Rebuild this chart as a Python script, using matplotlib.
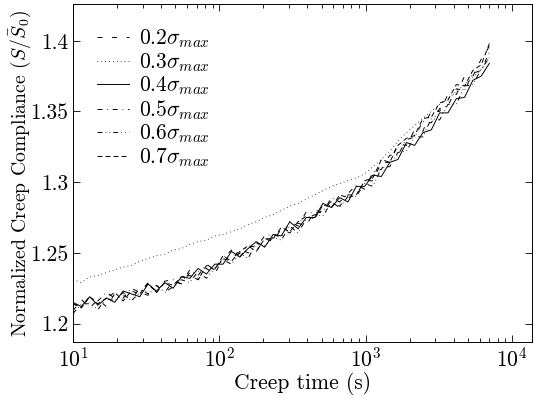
import matplotlib
matplotlib.use("Agg")
import matplotlib.pyplot as plt
from matplotlib.ticker import FixedLocator, FuncFormatter

plt.rcParams['font.family'] = 'cmr10'
plt.rcParams['mathtext.fontset'] = 'cm'
plt.rcParams['axes.formatter.use_mathtext'] = True
plt.rcParams['lines.scale_dashes'] = False

# creep time (s)
time = [10, 11.4, 13, 14.8, 16.9, 19.3, 22, 25, 28.6, 32.6, 37.2, 42.4, 48.3, 55, 62.8,
        71.6, 81.6, 93, 106, 121, 138, 157, 179, 204, 233, 265, 303, 345, 393, 448,
        511, 583, 664, 757, 863, 984, 1120, 1280, 1460, 1660, 1900, 2160, 2460, 2810,
        3200, 3650, 4160, 4740, 5400, 6160, 7000]

s02 = [1.209, 1.217, 1.211, 1.217, 1.212, 1.221, 1.220, 1.217, 1.225, 1.221, 1.227, 1.222,
       1.230, 1.228, 1.236, 1.231, 1.239, 1.235, 1.246, 1.244, 1.253, 1.250, 1.251, 1.260,
       1.258, 1.267, 1.264, 1.271, 1.269, 1.280, 1.279, 1.287, 1.283, 1.291, 1.291, 1.301,
       1.301, 1.314, 1.314, 1.327, 1.326, 1.337, 1.336, 1.351, 1.350, 1.362, 1.362, 1.375,
       1.375, 1.387, 1.396]
s03 = [1.231, 1.229, 1.233, 1.234, 1.236, 1.238, 1.240, 1.241, 1.244, 1.246, 1.248, 1.249,
       1.252, 1.253, 1.256, 1.258, 1.259, 1.262, 1.263, 1.265, 1.267, 1.270, 1.272, 1.275,
       1.277, 1.280, 1.283, 1.285, 1.288, 1.291, 1.294, 1.297, 1.299, 1.301, 1.303, 1.306,
       1.311, 1.316, 1.322, 1.329, 1.335, 1.340, 1.345, 1.350, 1.355, 1.359, 1.364, 1.369,
       1.374, 1.380, 1.388]
s04 = [1.215, 1.212, 1.219, 1.213, 1.218, 1.215, 1.223, 1.221, 1.219, 1.228, 1.223, 1.229,
       1.225, 1.233, 1.232, 1.239, 1.235, 1.242, 1.242, 1.251, 1.247, 1.253, 1.258, 1.254,
       1.263, 1.262, 1.272, 1.267, 1.275, 1.275, 1.285, 1.282, 1.289, 1.286, 1.297, 1.297,
       1.305, 1.304, 1.314, 1.316, 1.328, 1.326, 1.335, 1.337, 1.349, 1.349, 1.359, 1.360,
       1.372, 1.375, 1.384]
s05 = [1.214, 1.212, 1.219, 1.216, 1.222, 1.218, 1.218, 1.225, 1.222, 1.229, 1.222, 1.230,
       1.231, 1.228, 1.238, 1.234, 1.242, 1.238, 1.246, 1.252, 1.247, 1.255, 1.254, 1.262,
       1.263, 1.261, 1.272, 1.269, 1.279, 1.278, 1.279, 1.289, 1.286, 1.292, 1.298, 1.295,
       1.307, 1.309, 1.319, 1.319, 1.330, 1.332, 1.343, 1.342, 1.352, 1.354, 1.366, 1.365,
       1.377, 1.379, 1.392]
s06 = [1.207, 1.214, 1.214, 1.210, 1.218, 1.216, 1.222, 1.216, 1.222, 1.220, 1.227, 1.222,
       1.226, 1.231, 1.229, 1.237, 1.232, 1.239, 1.245, 1.242, 1.250, 1.246, 1.257, 1.255,
       1.261, 1.259, 1.269, 1.264, 1.274, 1.277, 1.276, 1.286, 1.282, 1.290, 1.290, 1.299,
       1.297, 1.310, 1.311, 1.321, 1.322, 1.332, 1.332, 1.345, 1.344, 1.355, 1.355, 1.368,
       1.369, 1.380, 1.388]
s07 = [1.214, 1.211, 1.219, 1.214, 1.218, 1.222, 1.216, 1.223, 1.221, 1.228, 1.222, 1.229,
       1.227, 1.233, 1.234, 1.231, 1.241, 1.238, 1.248, 1.244, 1.251, 1.255, 1.251, 1.260,
       1.260, 1.268, 1.265, 1.272, 1.276, 1.274, 1.284, 1.282, 1.291, 1.289, 1.291, 1.301,
       1.303, 1.316, 1.314, 1.326, 1.331, 1.333, 1.345, 1.346, 1.356, 1.358, 1.369, 1.368,
       1.379, 1.383, 1.398]

labels = [r'$0.2\sigma_{max}$', r'$0.3\sigma_{max}$', r'$0.4\sigma_{max}$',
          r'$0.5\sigma_{max}$', r'$0.6\sigma_{max}$', r'$0.7\sigma_{max}$']
styles = [(0, (3.5, 7)), (0, (0.5, 2.3)), '-', (0, (3.5, 3.5, 0.5, 3.5)),
          (0, (3.5, 2.3, 0.5, 2.3, 0.5, 2.3)), (0, (3.5, 2.3))]
yticks = [1.2, 1.25, 1.3, 1.35, 1.4]

fig = plt.figure(figsize=(5.34, 3.99), dpi=100)
ax = fig.add_axes([0.1367, 0.143, 0.8596, 0.847])

for ys, lab, ls in zip([s02, s03, s04, s05, s06, s07], labels, styles):
    ax.plot(time, ys, color='black', lw=0.7, linestyle=ls, label=lab)

ax.set_xscale('log')
ax.set_xlim(10, 13700)
ax.set_ylim(1.187, 1.426)
ax.yaxis.set_major_locator(FixedLocator(yticks))
ax.yaxis.set_major_formatter(FuncFormatter(lambda v, p: f'{v:g}'))

ax.tick_params(which='both', direction='in', top=True, right=True, labelsize=15.5, width=0.6)
ax.tick_params(which='major', length=5)
ax.tick_params(which='minor', length=3)
for s in ax.spines.values():
    s.set_linewidth(0.7)

ax.set_xlabel('Creep time (s)', fontsize=15.5, labelpad=1)
ax.set_ylabel(r'Normalized Creep Compliance ($S/\bar{S}_0$)', fontsize=14.2, labelpad=-2)

ax.legend(loc='upper left', frameon=False, fontsize=15.5, handlelength=1.5,
          labelspacing=0.04, borderaxespad=0.7, handletextpad=0.45)

fig.savefig('out.png', dpi=100)
